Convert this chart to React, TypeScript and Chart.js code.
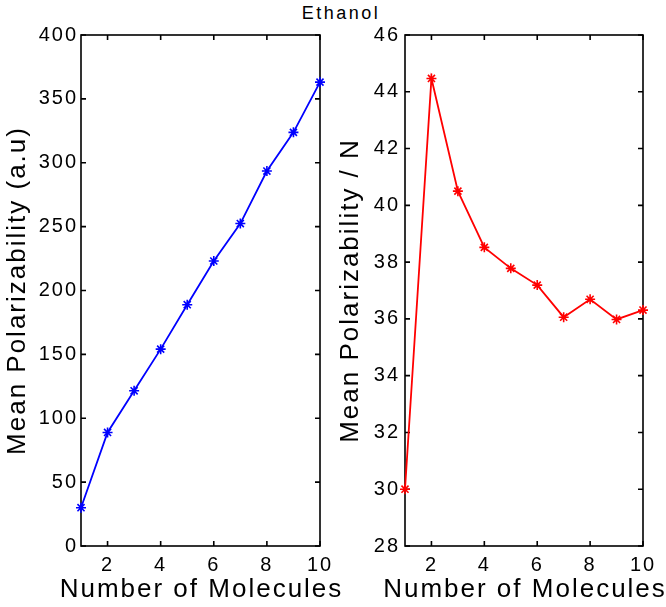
import React, { useEffect, useRef } from 'react';
import { Chart, registerables } from 'chart.js';

Chart.register(...registerables);

// ---- data ----
const moleculeCounts = [1, 2, 3, 4, 5, 6, 7, 8, 9, 10];
const meanPolarizability = [30.0, 88.9, 121.5, 154.1, 188.9, 223.1, 252.4, 293.5, 323.8, 363.1];
const polarizabilityPerMolecule = [30.0, 44.47, 40.5, 38.52, 37.78, 37.19, 36.06, 36.69, 35.98, 36.31];
const xTickValues = [2, 4, 6, 8, 10];
const leftYTicks = [0, 50, 100, 150, 200, 250, 300, 350, 400];
const rightYTicks = [28, 30, 32, 34, 36, 38, 40, 42, 44, 46];

const chartTitle = 'Ethanol';
const xAxisTitle = 'Number of Molecules';
const leftYAxisTitle = 'Mean Polarizability (a.u)';
const rightYAxisTitle = 'Mean Polarizability / N';

const W = 666;
const H = 607;
const FONT = "'Liberation Sans', Arial, Helvetica, sans-serif";
const TRACKING = '2px';

const spacingPlugin = {
  id: 'tracking',
  beforeDraw(chart: any) {
    try {
      (chart.ctx as any).letterSpacing = TRACKING;
    } catch (e) {
      /* ignore */
    }
  },
};

// Horizontal axis title drawn without Chart.js's maxWidth squeeze
const xTitlePlugin = {
  id: 'xTitle',
  afterDraw(chart: any) {
    const { ctx, chartArea } = chart;
    const xs = chart.scales.x;
    ctx.save();
    try {
      (ctx as any).letterSpacing = TRACKING;
    } catch (e) {
      /* ignore */
    }
    ctx.font = `26px ${FONT}`;
    ctx.fillStyle = '#000';
    ctx.textAlign = 'center';
    ctx.textBaseline = 'middle';
    ctx.fillText(xAxisTitle, (chartArea.left + chartArea.right) / 2 + 1, xs.bottom - 17);
    ctx.restore();
  },
};

const boxPlugin = {
  id: 'matlabBox',
  beforeDatasetsDraw(chart: any) {
    const { ctx, chartArea } = chart;
    const { left, right, top, bottom } = chartArea;
    const x = chart.scales.x;
    const y = chart.scales.y;
    ctx.save();
    ctx.strokeStyle = '#000';
    ctx.lineWidth = 1.6;
    ctx.strokeRect(left, top, right - left, bottom - top);
    const len = 5;
    ctx.beginPath();
    x.ticks.forEach((t: any) => {
      const px = x.getPixelForValue(t.value);
      ctx.moveTo(px, bottom);
      ctx.lineTo(px, bottom - len);
      ctx.moveTo(px, top);
      ctx.lineTo(px, top + len);
    });
    y.ticks.forEach((t: any) => {
      const py = y.getPixelForValue(t.value);
      ctx.moveTo(left, py);
      ctx.lineTo(left + len, py);
      ctx.moveTo(right, py);
      ctx.lineTo(right - len, py);
    });
    ctx.stroke();
    ctx.restore();
  },
};

function makeConfig(
  values: number[],
  color: string,
  yTicks: number[],
  yTitle: string,
  pad: { left: number; right: number },
  yAxisWidth: number,
  yTickPad: number
): any {
  return {
    type: 'line',
    data: {
      datasets: [
        {
          data: moleculeCounts.map((n, i) => ({ x: n, y: values[i] })),
          borderColor: color,
          backgroundColor: color,
          borderWidth: 1.8,
          pointStyle: 'star',
          pointRadius: 5,
          pointBorderWidth: 1.6,
          pointBorderColor: color,
          fill: false,
          tension: 0,
          clip: false,
        },
      ],
    },
    options: {
      responsive: false,
      animation: false,
      events: [],
      layout: { padding: { left: pad.left, right: pad.right, top: 35, bottom: 0 } },
      plugins: { legend: { display: false }, tooltip: { enabled: false }, title: { display: false } },
      scales: {
        x: {
          type: 'linear',
          min: 1,
          max: 10,
          grid: { display: false, drawTicks: false },
          border: { display: false },
          afterBuildTicks: (s: any) => {
            s.ticks = xTickValues.map((v) => ({ value: v }));
          },
          afterFit: (s: any) => {
            s.height = H - 546;
          },
          ticks: {
            autoSkip: false,
            maxRotation: 0,
            padding: 7,
            color: '#000',
            font: { family: FONT, size: 20 },
          },
          title: { display: false, text: xAxisTitle },
        },
        y: {
          type: 'linear',
          min: yTicks[0],
          max: yTicks[yTicks.length - 1],
          grid: { display: false, drawTicks: false },
          border: { display: false },
          afterBuildTicks: (s: any) => {
            s.ticks = yTicks.map((v) => ({ value: v }));
          },
          afterFit: (s: any) => {
            s.width = yAxisWidth;
          },
          ticks: {
            autoSkip: false,
            padding: yTickPad,
            color: '#000',
            font: { family: FONT, size: 20 },
          },
          title: {
            display: true,
            text: yTitle,
            color: '#000',
            font: { family: FONT, size: 26 },
            padding: { top: 2, bottom: 0 },
          },
        },
      },
    },
    plugins: [spacingPlugin, boxPlugin, xTitlePlugin],
  };
}

export default function App() {
  const leftRef = useRef<HTMLCanvasElement>(null);
  const rightRef = useRef<HTMLCanvasElement>(null);

  useEffect(() => {
    const left = new Chart(
      leftRef.current!,
      makeConfig(meanPolarizability, '#0000ff', leftYTicks, leftYAxisTitle, { left: 0, right: W - 320 }, 81, 3)
    );
    const right = new Chart(
      rightRef.current!,
      makeConfig(polarizabilityPerMolecule, '#ff0000', rightYTicks, rightYAxisTitle, { left: 333, right: W - 643 }, 405 - 333, 5)
    );
    return () => {
      left.destroy();
      right.destroy();
    };
  }, []);

  const canvasStyle: React.CSSProperties = { position: 'absolute', left: 0, top: 0, width: W, height: H };

  return (
    <div style={{ position: 'absolute', left: 0, top: 0, width: W, height: H, background: '#fff', overflow: 'hidden' }}>
      <div
        style={{
          position: 'absolute',
          left: 0,
          top: 4,
          width: 682,
          textAlign: 'center',
          fontFamily: FONT,
          fontSize: 18,
          lineHeight: '18px',
          letterSpacing: '2.5px',
          color: '#000',
        }}
      >
        {chartTitle}
      </div>
      <canvas ref={leftRef} width={W} height={H} style={canvasStyle} />
      <canvas ref={rightRef} width={W} height={H} style={canvasStyle} />
    </div>
  );
}
